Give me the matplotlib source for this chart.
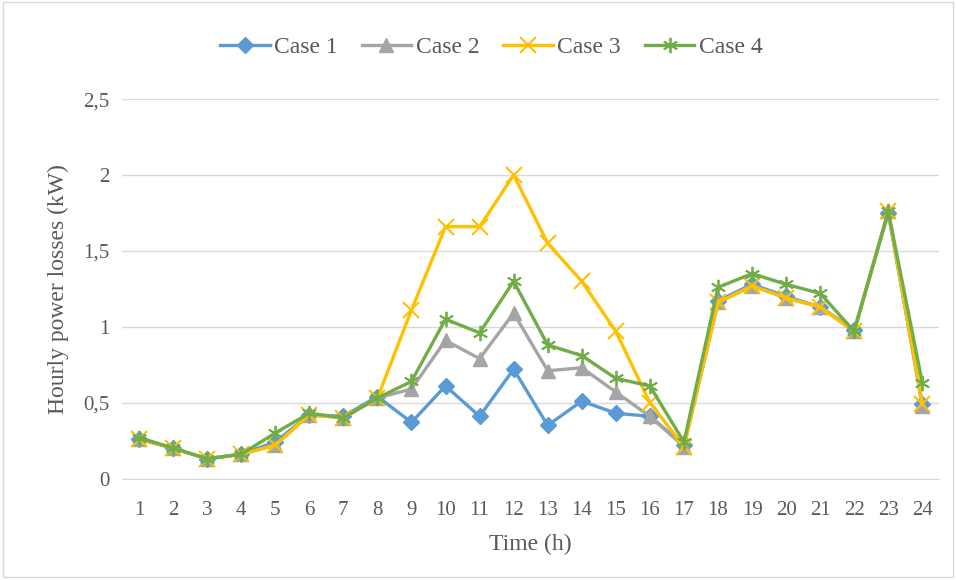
import matplotlib.pyplot as plt
from matplotlib.patches import Rectangle

plt.rcParams['font.family'] = ['Liberation Serif', 'DejaVu Serif']

hours = list(range(1, 25))
case1 = [0.26, 0.20, 0.13, 0.16, 0.24, 0.42, 0.41, 0.54, 0.37, 0.61, 0.41, 0.72,
         0.35, 0.51, 0.43, 0.41, 0.22, 1.17, 1.28, 1.20, 1.13, 0.98, 1.75, 0.49]
case2 = [0.26, 0.20, 0.13, 0.16, 0.22, 0.42, 0.40, 0.53, 0.59, 0.91, 0.79, 1.09,
         0.71, 0.73, 0.57, 0.41, 0.21, 1.16, 1.27, 1.19, 1.13, 0.97, 1.76, 0.48]
case3 = [0.26, 0.20, 0.13, 0.16, 0.22, 0.42, 0.40, 0.53, 1.11, 1.66, 1.66, 2.00,
         1.55, 1.30, 0.97, 0.50, 0.21, 1.16, 1.27, 1.19, 1.13, 0.97, 1.76, 0.49]
case4 = [0.27, 0.20, 0.13, 0.16, 0.30, 0.43, 0.40, 0.53, 0.64, 1.05, 0.96, 1.30,
         0.88, 0.81, 0.66, 0.61, 0.24, 1.26, 1.35, 1.28, 1.22, 0.97, 1.76, 0.63]
yticks = [0, 0.5, 1, 1.5, 2, 2.5]
ylabels = ['0', '0,5', '1', '1,5', '2', '2,5']

fig = plt.figure(figsize=(9.56, 5.8), dpi=100)
ax = fig.add_axes([0.1276, 0.175, 0.855, 0.654])

ax.plot(hours, case1, color='#5B9BD5', lw=2.4, marker='D', ms=8, label='Case 1')
ax.plot(hours, case2, color='#A5A5A5', lw=2.4, marker='^', ms=10, label='Case 2')
ax.plot(hours, case3, color='#FFC000', lw=2.4, marker='x', ms=11, mew=1.5, label='Case 3')
ax.plot(hours, case4, color='#70AD47', lw=2.4, marker=(6, 2, 0), ms=11, mew=1.3, label='Case 4')

ax.set_xlim(0.5, 24.5)
ax.set_ylim(0, 2.5)
ax.set_xticks(hours)
ax.set_yticks(yticks)
ax.set_yticklabels(ylabels)
ax.grid(axis='y', color='#D9D9D9', lw=1)
ax.set_axisbelow(True)
for s in ['top', 'right', 'left']:
    ax.spines[s].set_visible(False)
ax.spines['bottom'].set_color('#D9D9D9')
ax.tick_params(length=0, labelsize=15, colors='#595959')
ax.tick_params(axis='x', pad=16)
ax.tick_params(axis='y', pad=9)
ax.set_xlabel('Time (h)', fontsize=17, color='#595959', labelpad=10)
ax.set_ylabel('Hourly power losses (kW)', fontsize=17, color='#595959', labelpad=10)

fig.legend(loc='center', bbox_to_anchor=(0.514, 0.918), ncol=4, frameon=False,
           fontsize=17, labelcolor='#595959', handlelength=2.1, columnspacing=1.0,
           handletextpad=0.2)

fig.patches.append(Rectangle((0.003, 0.006), 0.994, 0.99, transform=fig.transFigure,
                             fill=False, ec='#D9D9D9', lw=1))

plt.savefig('out.png', dpi=100)
